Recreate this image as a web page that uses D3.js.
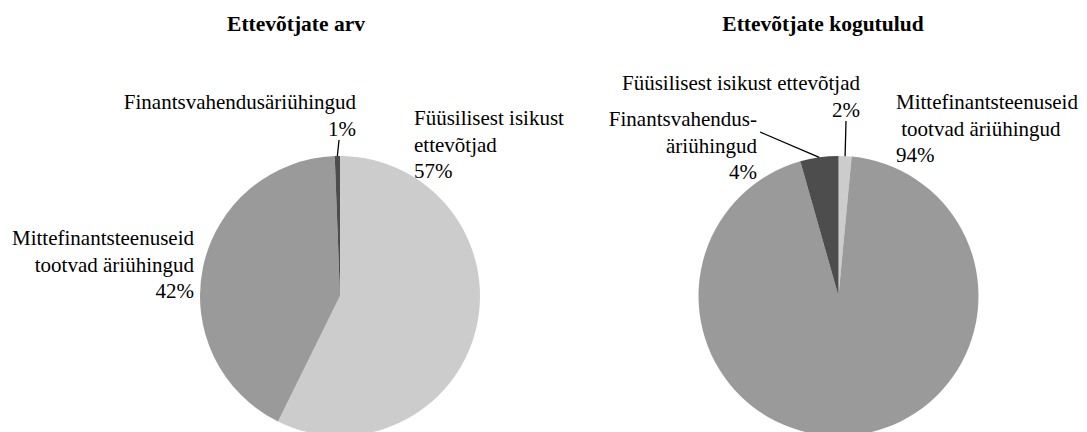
<!DOCTYPE html>
<html>
<head>
<meta charset="utf-8">
<script src="https://cdn.jsdelivr.net/npm/d3@7"></script>
<style>
  html, body { margin: 0; padding: 0; background: #fff; }
</style>
</head>
<body>
<svg id="chart" width="1087" height="432"></svg>
<script>
// ---- data ----
const categories = [
  "Füüsilisest isikust ettevõtjad",
  "Mittefinantsteenuseid tootvad äriühingud",
  "Finantsvahendusäriühingud"
];
const countShares = [57.3, 42.1, 0.6];     // Ettevõtjate arv (%)
const revenueShares = [1.5, 94.1, 4.4];    // Ettevõtjate kogutulud (%)
const sliceColors = ["#cccccc", "#9a9a9a", "#4d4d4d"];
const titles = ["Ettevõtjate arv", "Ettevõtjate kogutulud"];
// label text lines (without the percent line) per chart
const countLabelLines = [
  ["Füüsilisest isikust", "ettevõtjad"],
  ["Mittefinantsteenuseid", "tootvad äriühingud"],
  ["Finantsvahendusäriühingud"]
];
const revenueLabelLines = [
  ["Füüsilisest isikust ettevõtjad"],
  ["Mittefinantsteenuseid", "\u00a0tootvad äriühingud"],
  ["Finantsvahendus-", "äriühingud"]
];

// ---- layout ----
const FONT = "'Liberation Serif', 'Times New Roman', serif";
const svg = d3.select("#chart");
const R = 140;
const fontSize = 21;
const lineH = 26.5;
const pct = v => d3.format(".0f")(v) + "%";

const charts = [
  {
    title: titles[0], titleX: 296, titleY: 31,
    cx: 340, cy: 296, values: countShares, lines: countLabelLines,
    labels: [
      { x: 414, y: 125, anchor: "start" },
      { x: 194, y: 245, anchor: "end" },
      { x: 356, y: 109, anchor: "end", leader: [339, 140] }
    ]
  },
  {
    title: titles[1], titleX: 823, titleY: 31,
    cx: 838.5, cy: 296, values: revenueShares, lines: revenueLabelLines,
    labels: [
      { x: 860, y: 90, anchor: "end", leader: [846, 121] },
      { x: 896, y: 109, anchor: "start" },
      { x: 757, y: 126, anchor: "end", leader: [760, 132] }
    ]
  }
];

const pie = d3.pie().sort(null).value(d => d);
const arc = d3.arc().innerRadius(0).outerRadius(R);

charts.forEach(ch => {
  const g = svg.append("g").attr("transform", `translate(${ch.cx},${ch.cy})`);
  const arcs = pie(ch.values);
  g.selectAll("path.slice")
    .data(arcs)
    .join("path")
    .attr("class", "slice")
    .attr("d", arc)
    .attr("fill", (d, i) => sliceColors[i]);

  svg.append("text")
    .attr("x", ch.titleX).attr("y", ch.titleY)
    .attr("text-anchor", "middle")
    .attr("font-family", FONT)
    .attr("font-weight", "bold")
    .attr("font-size", 21.5)
    .attr("fill", "#000")
    .text(ch.title);

  arcs.forEach((a, i) => {
    const L = ch.labels[i];
    const lines = ch.lines[i].concat([pct(ch.values[i])]);
    const t = svg.append("text")
      .attr("font-family", FONT)
      .attr("font-size", fontSize)
      .attr("fill", "#000")
      .attr("text-anchor", L.anchor);
    lines.forEach((s, k) => {
      t.append("tspan")
        .attr("x", L.x)
        .attr("y", L.y + k * lineH)
        .text(s);
    });
    if (L.leader) {
      const mid = (a.startAngle + a.endAngle) / 2;
      const ex = ch.cx + R * Math.sin(mid);
      const ey = ch.cy - R * Math.cos(mid);
      svg.append("line")
        .attr("x1", L.leader[0]).attr("y1", L.leader[1])
        .attr("x2", ex).attr("y2", ey)
        .attr("stroke", "#000")
        .attr("stroke-width", 1.3);
    }
  });
});
</script>
</body>
</html>
